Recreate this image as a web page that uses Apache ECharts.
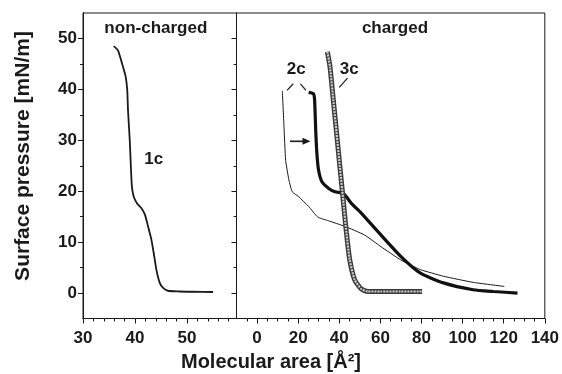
<!DOCTYPE html>
<html><head><meta charset="utf-8">
<script src="https://cdn.jsdelivr.net/npm/echarts@6/dist/echarts.min.js"></script>
<style>html,body{margin:0;padding:0;background:#fff}#c{width:562px;height:374px}</style>
</head><body><div id="c"></div>
<script>
// ---- data ----
const c1X = [35.9,36.7,37.7,38.2,38.5,38.65,38.98,39.2,39.4,39.75,40.4,41.2,41.9,42.5,43.15,43.6,44.1,44.75,45.4,46.3,48.5,51,55.0];
const c1Y = [48.5,47.7,44.4,42.5,39.9,35.9,30.1,24.8,20.9,18.9,17.6,16.7,15.4,13.1,10.45,7.8,4.6,2.0,1.0,0.45,0.3,0.25,0.2];

const c2thinX = [12.3,13.1,13.9,15.5,17.1,20.3,25.1,29.6,34.7,42.7,52.3,60.3,69.9,79.5,90.7,105.1,120.3];
const c2thinY = [39.7,32.7,26.1,22.2,19.9,18.9,17.0,14.9,14.2,13.1,11.4,9.1,6.5,4.6,3.3,2.1,1.3];

const c2thickX = [25.1,27.5,28.0,28.6,29.1,29.9,31.5,34.7,37.9,41.9,43.5,45.9,50.7,58.7,69.9,79.5,90.7,105.1,115,126.7];
const c2thickY = [39.4,39.1,37.9,31.4,27.5,24.2,21.9,20.6,19.9,19.6,18.9,17.6,15.7,12.1,7.2,3.9,2.0,0.65,0.3,0.0];

const c3X = [34.2,35.5,37.1,38.7,40.3,41.9,43.5,45.1,47.5,50.7,53.9,60,70,80.3];
const c3Y = [47.4,44.4,37.9,31.4,24.8,18.3,11.8,6.5,2.6,0.8,0.3,0.3,0.3,0.3];

const yMajor = [0,10,20,30,40,50];
const yMinor = [5,15,25,35,45];
const xLeftMajor = [30,40,50];
const xLeftMinor = [32,34,36,38,42,44,46,48,52,54,56,58];
const xRightMajor = [0,20,40,60,80,100,120,140];
const xRightMinor = [-5,5,10,15,25,30,35,45,50,55,65,70,75,85,90,95,105,110,115,125,130,135];

const zip = (a,b) => a.map((v,i)=>[v,b[i]]);
const FONT = '"Liberation Sans", Arial, sans-serif';
const INK = '#1a1a1a';

const chart = echarts.init(document.getElementById('c'), null, {renderer:'canvas'});

const labelStyle = {fontFamily: FONT, fontWeight: 'bold', fontSize: 17, color: INK};
function xAx(grid, min, max, ticks, len, labels) {
  return {type:'value', gridIndex:grid, min:min, max:max, position:'bottom',
    axisLine:{show:true, onZero:false, lineStyle:{color:INK, width:1}},
    axisTick:{show:true, inside:false, length:len, customValues:ticks, lineStyle:{color:INK, width:1}},
    axisLabel: labels ? Object.assign({show:true, customValues:ticks, margin:11}, labelStyle) : {show:false},
    splitLine:{show:false}};
}
function yAx(grid, ticks, len, labels) {
  return {type:'value', gridIndex:grid, min:-5, max:55, position:'left',
    axisLine:{show:true, onZero:false, lineStyle:{color:INK, width:1}},
    axisTick:{show:true, inside:false, length:len, customValues:ticks, lineStyle:{color:INK, width:1}},
    axisLabel: labels ? Object.assign({show:true, customValues:ticks, margin:6}, labelStyle) : {show:false},
    splitLine:{show:false}};
}

const option = {
  animation:false,
  backgroundColor:'#fff',
  grid:[
    {left:83, top:13, width:153.5, height:305.5, show:true, borderColor:INK, borderWidth:1, backgroundColor:'transparent'},
    {left:236.5, top:13, width:310, height:305.5, show:true, borderColor:INK, borderWidth:1, backgroundColor:'transparent'}
  ],
  xAxis:[
    xAx(0,30,59.5,xLeftMajor,5,true),
    xAx(0,30,59.5,xLeftMinor,3,false),
    xAx(1,-10,140,xRightMajor,5,true),
    xAx(1,-10,140,xRightMinor,3,false)
  ],
  yAxis:[
    yAx(0,yMajor,5,true),
    yAx(0,yMinor,3,false),
    yAx(1,yMajor,5,false),
    yAx(1,yMinor,3,false)
  ],
  series:[
    {type:'line', xAxisIndex:0, yAxisIndex:0, data:zip(c1X,c1Y), showSymbol:false, smooth:0.2,
      lineStyle:{color:INK, width:1.8}},
    {type:'line', xAxisIndex:2, yAxisIndex:2, data:zip(c2thinX,c2thinY), showSymbol:false, smooth:0.15,
      lineStyle:{color:INK, width:1}},
    {type:'line', xAxisIndex:2, yAxisIndex:2, data:zip(c2thickX,c2thickY), showSymbol:false, smooth:0.2,
      lineStyle:{color:'#111', width:3.2}},
    {type:'line', xAxisIndex:2, yAxisIndex:2, data:zip(c3X,c3Y), showSymbol:false, smooth:0.2,
      lineStyle:{color:'#3a3a3a', width:5}},
    {type:'line', xAxisIndex:2, yAxisIndex:2, data:zip(c3X,c3Y), showSymbol:false, smooth:0.2,
      lineStyle:{color:'#cfcfcf', width:2.2, type:[2,1]}}
  ]
};
chart.setOption(option);

// annotations in data coordinates
const P = (si, x, y) => chart.convertToPixel({seriesIndex:si}, [x,y]);
const txt = (p, s, size) => ({type:'text', x:p[0], y:p[1], style:{text:s, fill:INK, font:'bold '+size+'px '+FONT, textAlign:'center', textVerticalAlign:'middle'}, z:100});
const seg = (a, b, w) => ({type:'line', shape:{x1:a[0], y1:a[1], x2:b[0], y2:b[1]}, style:{stroke:INK, lineWidth:w||1.2}, z:100});

const aTail = P(1, 16.0, 29.8), aTip = P(1, 26.0, 29.8);
const gfx = [
  txt(P(0, 44.0, 52.0), 'non-charged', 17),
  txt(P(1, 67.1, 52.0), 'charged', 17),
  txt(P(0, 43.6, 26.3), '1c', 17),
  txt(P(1, 19.1, 43.9), '2c', 17),
  txt(P(1, 44.8, 43.9), '3c', 17),
  seg(P(1, 14.6, 39.8), P(1, 17.6, 41.1)),
  seg(P(1, 21.1, 41.1), P(1, 23.8, 39.8)),
  seg(P(1, 40.0, 40.4), P(1, 44.0, 42.2)),
  seg(aTail, [aTip[0]-6, aTip[1]], 1.6),
  {type:'polygon', shape:{points:[[aTip[0], aTip[1]], [aTip[0]-8, aTip[1]-3.5], [aTip[0]-8, aTip[1]+3.5]]}, style:{fill:INK}, z:100},
  {type:'text', x:23, y:156, rotation:Math.PI/2, style:{text:'Surface pressure [mN/m]', fill:INK, font:'bold 21px '+FONT, textAlign:'center', textVerticalAlign:'middle'}, z:100},
  {type:'text', x:271, y:362, style:{text:'Molecular area [Å²]', fill:INK, font:'bold 20px '+FONT, textAlign:'center', textVerticalAlign:'middle'}, z:100}
];
chart.setOption({graphic:gfx});
</script>
</body></html>
